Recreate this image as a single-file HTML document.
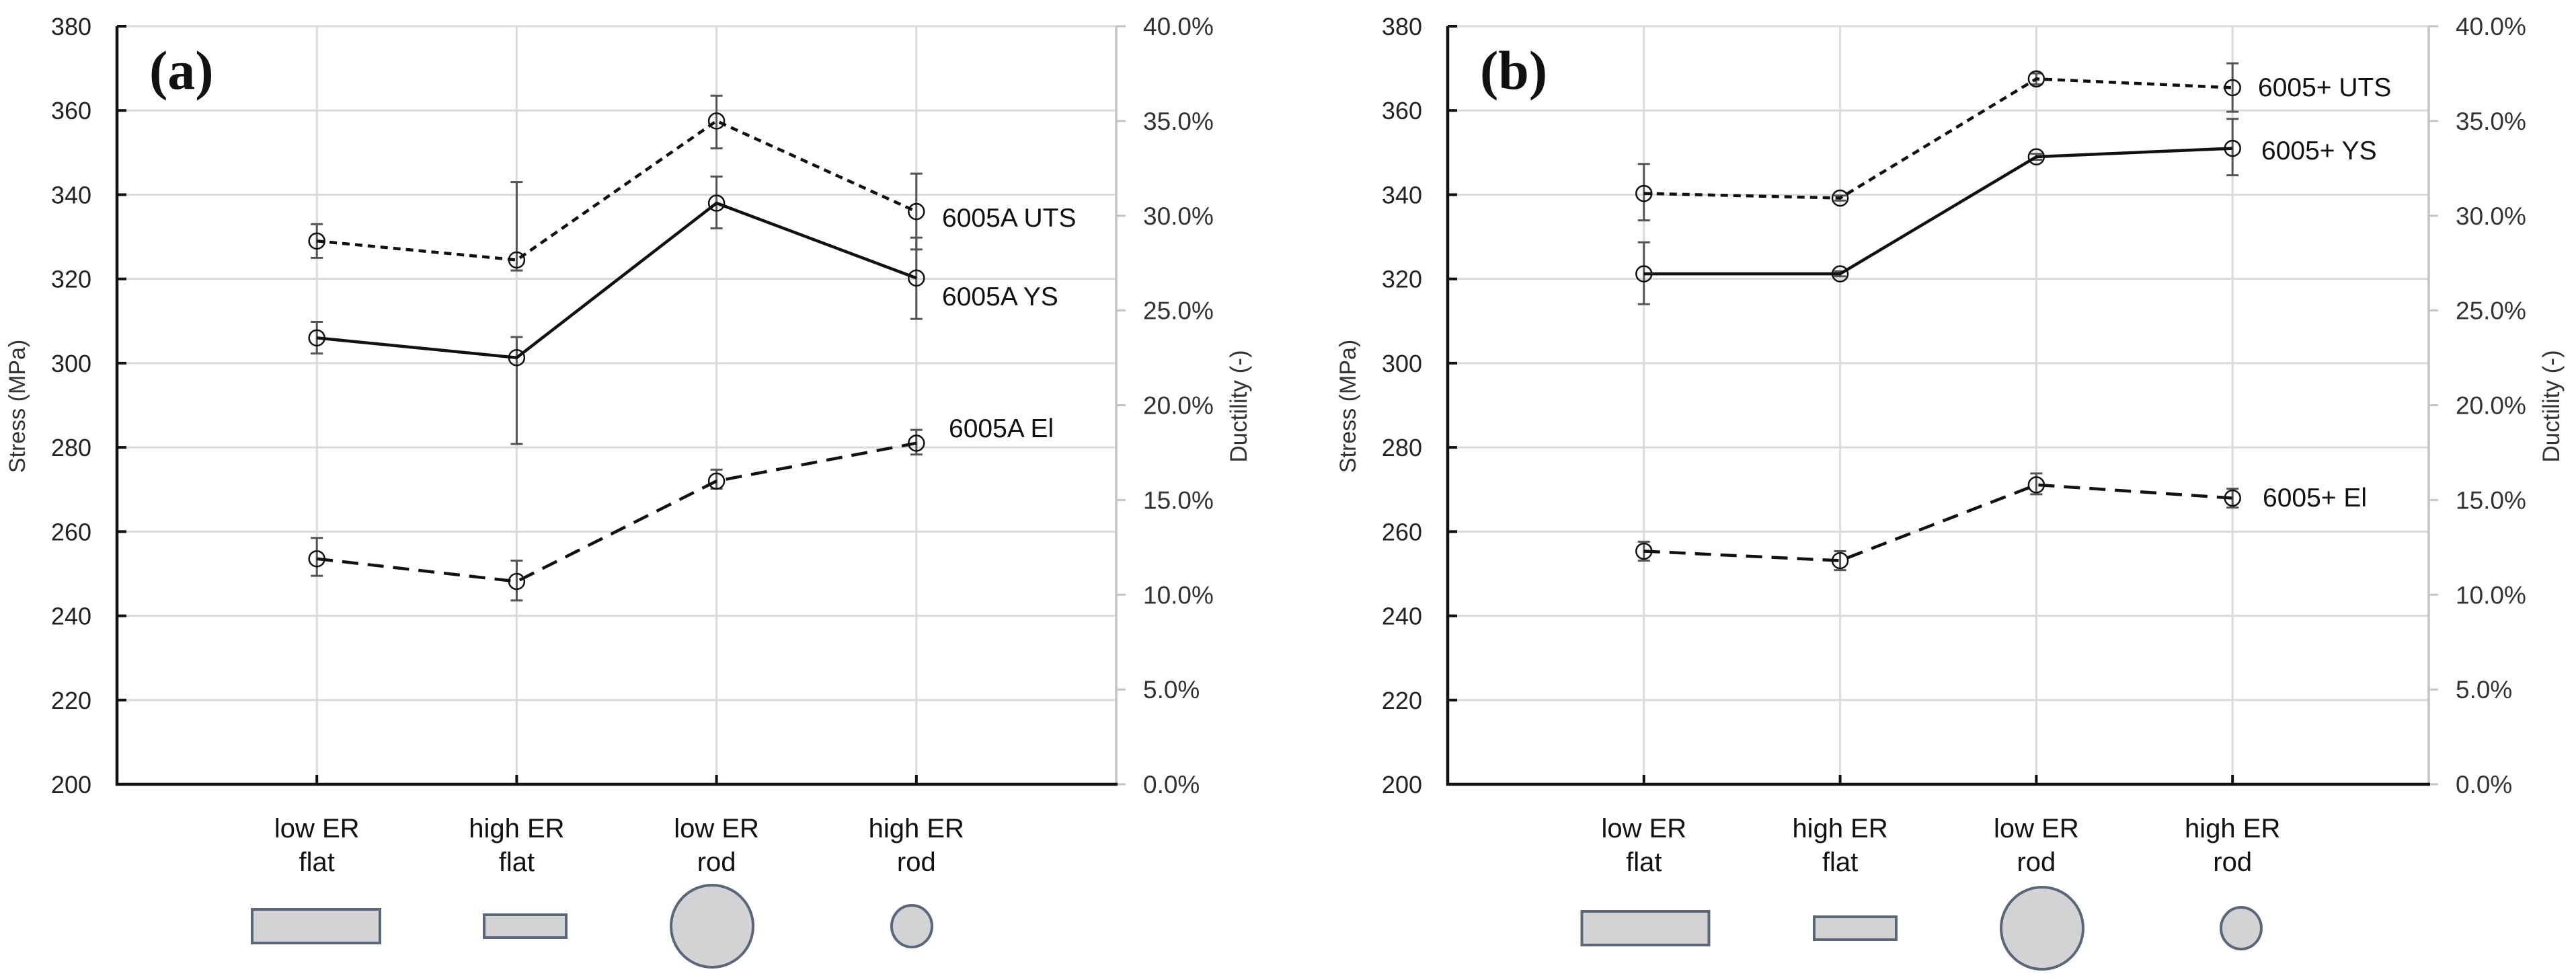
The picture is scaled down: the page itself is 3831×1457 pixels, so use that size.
<!DOCTYPE html>
<html><head><meta charset="utf-8">
<style>
html,body{margin:0;padding:0;background:#fff;}
svg{display:block;font-family:"Liberation Sans",Arial,sans-serif;}
</style></head>
<body>
<svg id="chart" width="3831" height="1457" viewBox="0 0 3831 1457" xmlns="http://www.w3.org/2000/svg"></svg>
<script>
const categories = [["low ER","flat"],["high ER","flat"],["low ER","rod"],["high ER","rod"]];
const stressTicks = [200,220,240,260,280,300,320,340,360,380];
const ductTicks = [0,5,10,15,20,25,30,35,40];
// Panel a (6005A)
const aUTS = [329, 324.5, 357.5, 336];
const aUTSlo = [325, 322, 351, 327];
const aUTShi = [333, 343, 363.5, 345];
const aYS = [306, 301.3, 338, 320.2];
const aYSlo = [302.3, 280.8, 332, 310.5];
const aYShi = [309.8, 306.2, 344.3, 329.8];
const aEl = [11.9, 10.7, 16.0, 18.0];
const aEllo = [11.0, 9.7, 15.6, 17.4];
const aElhi = [13.0, 11.8, 16.6, 18.7];
// Panel b (6005+)
const bUTS = [340.3, 339.2, 367.5, 365.4];
const bUTSlo = [333.9, 338.6, 366.2, 359.7];
const bUTShi = [347.3, 339.8, 368.8, 371.2];
const bYS = [321.2, 321.2, 349, 351];
const bYSlo = [314, 320.6, 348.3, 344.6];
const bYShi = [328.7, 321.8, 349.7, 358];
const bEl = [12.3, 11.8, 15.8, 15.1];
const bEllo = [11.8, 11.3, 15.3, 14.6];
const bElhi = [12.8, 12.3, 16.4, 15.6];

const NS = "http://www.w3.org/2000/svg";
const svg = document.getElementById('chart');
function mk(tag, attrs, parent){
  const e = document.createElementNS(NS, tag);
  for (const k in attrs) e.setAttribute(k, attrs[k]);
  (parent||svg).appendChild(e);
  return e;
}

function panel(p){
  const g = mk('g', {});
  
  
  const top = 39, bot = 1166;
  const xs = i => p.left + (i+1) * (p.right - p.left) / 5;
  const ys = v => bot - (v - 200) / 180 * (bot - top);
  const yd = v => bot - v / 40 * (bot - top);

  stressTicks.forEach(t => {
    if (t === 200) return;
    const l = mk('line', {x1:p.left, x2:p.right, y1:ys(t), y2:ys(t), stroke:'#dadada', 'stroke-width':3}, g);
    
    
  });
  categories.forEach((c,i) => {
    const l = mk('line', {x1:xs(i), x2:xs(i), y1:top, y2:bot, stroke:'#dadada', 'stroke-width':3}, g);
    
    
  });
  const ra = mk('line', {x1:p.right, x2:p.right, y1:top, y2:bot, stroke:'#c4c4c4', 'stroke-width':3.5}, g);
  
  
  ductTicks.forEach(t => {
    const tk = mk('line', {x1:p.right, x2:p.right+14, y1:yd(t), y2:yd(t), stroke:'#c4c4c4', 'stroke-width':3}, g);
    
    
    const tx = mk('text', {x:p.right+40, y:yd(t)+13, 'font-size':37, fill:'#333'}, g);
    tx.textContent = t.toFixed(1) + '%';
    
    
  });
  const la = mk('line', {x1:p.left, x2:p.left, y1:top, y2:bot+2, stroke:'#111', 'stroke-width':4.5}, g);
  
  
  stressTicks.forEach(t => {
    const tk = mk('line', {x1:p.left, x2:p.left+14, y1:ys(t), y2:ys(t), stroke:'#111', 'stroke-width':4}, g);
    
    
    const tx = mk('text', {x:p.left-38, y:ys(t)+13, 'font-size':36, fill:'#222', 'text-anchor':'end'}, g);
    tx.textContent = t;
    
    
  });
  const ba = mk('line', {x1:p.left-2, x2:p.right+2, y1:bot, y2:bot, stroke:'#111', 'stroke-width':4.5}, g);
  
  
  categories.forEach((c,i) => {
    const tk = mk('line', {x1:xs(i), x2:xs(i), y1:bot, y2:bot-14, stroke:'#111', 'stroke-width':4}, g);
    
    
    const t1 = mk('text', {x:xs(i), y:1245, 'font-size':40, fill:'#111', 'text-anchor':'middle'}, g);
    t1.textContent = c[0];
    
    
    const t2 = mk('text', {x:xs(i), y:1295, 'font-size':40, fill:'#111', 'text-anchor':'middle'}, g);
    t2.textContent = c[1];
    
    
  });
  const st = mk('text', {x:0, y:0, 'font-size':34, fill:'#333', 'text-anchor':'middle', transform:`translate(${p.left-137},604) rotate(-90)`}, g);
  st.textContent = 'Stress (MPa)';
  
  
  const dt = mk('text', {x:0, y:0, 'font-size':35, fill:'#333', 'text-anchor':'middle', transform:`translate(${p.right+194},604) rotate(-90)`}, g);
  dt.textContent = 'Ductility (-)';
  
  
  const pl = mk('text', {x:p.left+48, y:132, 'font-size':82, 'font-weight':'bold', 'font-family':'"Liberation Serif",serif', fill:'#111'}, g);
  pl.textContent = '(' + p.id + ')';
  
  

  const series = [
    {v:p.uts, lo:p.utslo, hi:p.utshi, sc:ys, dash:'11 8', w:4.5, name:'uts'},
    {v:p.ys, lo:p.yslo, hi:p.yshi, sc:ys, dash:'', w:4.5, name:'ys'},
    {v:p.el, lo:p.ello, hi:p.elhi, sc:yd, dash:'24 14', w:4.5, name:'el'}
  ];
  series.forEach(s => {
    s.v.forEach((v,i) => {
      const x = xs(i);
      const e = mk('line', {x1:x, x2:x, y1:s.sc(s.lo[i]), y2:s.sc(s.hi[i]), stroke:'#555', 'stroke-width':3}, g);
      
      
      [s.lo[i], s.hi[i]].forEach(b => {
        const c = mk('line', {x1:x-9, x2:x+9, y1:s.sc(b), y2:s.sc(b), stroke:'#555', 'stroke-width':3}, g);
        
        
      });
    });
    const pts = s.v.map((v,i) => xs(i) + ',' + s.sc(v)).join(' ');
    const pl2 = mk('polyline', {points:pts, fill:'none', stroke:'#111', 'stroke-width':s.w, 'stroke-dasharray':s.dash}, g);
    
    
    s.v.forEach((v,i) => {
      const m = mk('circle', {cx:xs(i), cy:s.sc(v), r:11.5, fill:'none', stroke:'#111', 'stroke-width':2.5}, g);
      
      
    });
  });
  p.labels.forEach(L => {
    const t = mk('text', {x:L[1], y:L[2]+14, 'font-size':39, fill:'#111'}, g);
    t.textContent = L[0];
    
    
  });
  const sh = p.shapes;
  [['rect',sh[0]],['rect',sh[1]],['circle',sh[2]],['circle',sh[3]]].forEach(([k,d]) => {
    let e;
    if (k === 'rect') e = mk('rect', {x:d[0]-d[2]/2, y:d[1]-d[3]/2, width:d[2], height:d[3], fill:'#d3d3d6', stroke:'#5c6679', 'stroke-width':4}, g);
    else e = mk('ellipse', {cx:d[0], cy:d[1], rx:d[2], ry:d[3], fill:'#d3d3d6', stroke:'#5c6679', 'stroke-width':4}, g);
    
    
  });
}

panel({id:'a', left:174, right:1660,
  uts:aUTS, utslo:aUTSlo, utshi:aUTShi, ys:aYS, yslo:aYSlo, yshi:aYShi, el:aEl, ello:aEllo, elhi:aElhi,
  labels:[['6005A UTS',1401,323],['6005A YS',1401,440],['6005A El',1411,636]],
  shapes:[[470,1377,190,50],[781,1377,122,34],[1059,1377,61,61],[1356,1377,30,31]]});
panel({id:'b', left:2153, right:3612,
  uts:bUTS, utslo:bUTSlo, utshi:bUTShi, ys:bYS, yslo:bYSlo, yshi:bYShi, el:bEl, ello:bEllo, elhi:bElhi,
  labels:[['6005+ UTS',3358,129],['6005+ YS',3363,223],['6005+ El',3365,739]],
  shapes:[[2447,1380,189,50],[2759,1380,122,34],[3037,1380,61,61],[3333,1380,30,31]]});
</script>
</body></html>
